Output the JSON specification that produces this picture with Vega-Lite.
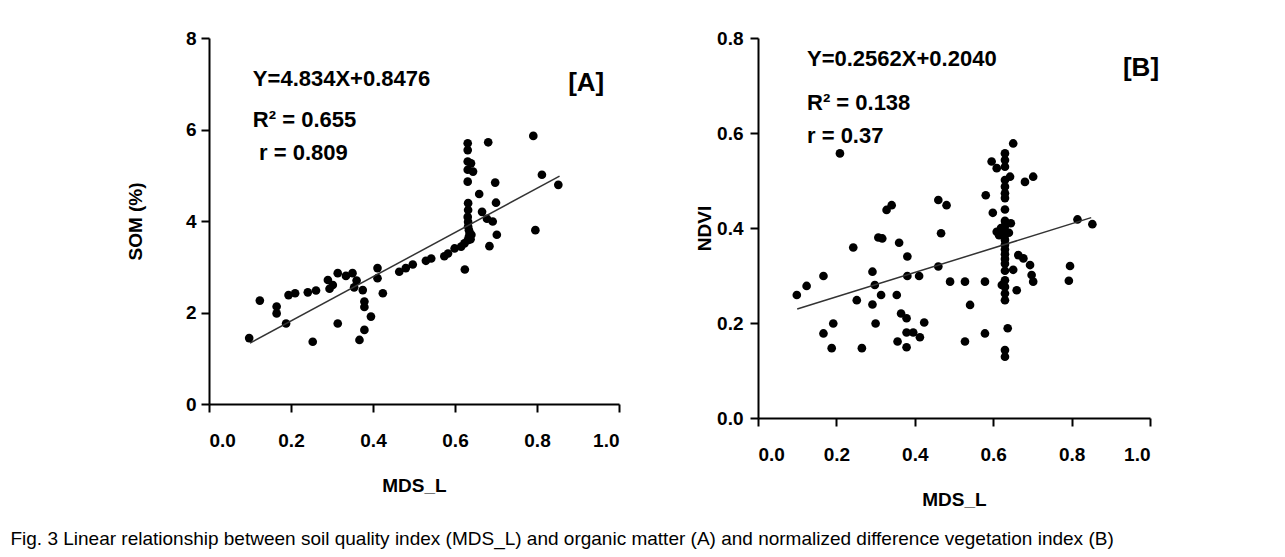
{
  "$schema": "https://vega.github.io/schema/vega-lite/v6.json",
  "background": "white",
  "padding": {"top": 29, "left": 10, "right": 5, "bottom": 8},
  "config": {
    "view": {"stroke": null},
    "font": "Liberation Sans, Arial",
    "axis": {
      "grid": false,
      "domainColor": "black",
      "domainWidth": 2,
      "tickColor": "black",
      "tickWidth": 2,
      "tickSize": 8,
      "labelColor": "black",
      "labelFont": "Liberation Sans, Arial",
      "labelFontWeight": "bold",
      "labelFontSize": 19,
      "titleColor": "black",
      "titleFont": "Liberation Sans, Arial",
      "titleFontWeight": "bold",
      "titleFontSize": 19
    }
  },
  "datasets": {
    "somA": [
      {"mds": 0.098, "som": 1.44}, {"mds": 0.124, "som": 2.26}, {"mds": 0.165, "som": 2.13}, {"mds": 0.165, "som": 1.98},
      {"mds": 0.188, "som": 1.76}, {"mds": 0.194, "som": 2.38}, {"mds": 0.21, "som": 2.42}, {"mds": 0.241, "som": 2.44},
      {"mds": 0.261, "som": 2.48}, {"mds": 0.253, "som": 1.36}, {"mds": 0.29, "som": 2.71}, {"mds": 0.294, "som": 2.52},
      {"mds": 0.302, "som": 2.6}, {"mds": 0.314, "som": 1.76}, {"mds": 0.314, "som": 2.86}, {"mds": 0.334, "som": 2.8},
      {"mds": 0.35, "som": 2.86}, {"mds": 0.354, "som": 2.55}, {"mds": 0.36, "som": 2.7}, {"mds": 0.375, "som": 2.49},
      {"mds": 0.379, "som": 2.24}, {"mds": 0.379, "som": 2.12}, {"mds": 0.367, "som": 1.4}, {"mds": 0.379, "som": 1.62},
      {"mds": 0.395, "som": 1.91}, {"mds": 0.424, "som": 2.42}, {"mds": 0.411, "som": 2.97}, {"mds": 0.411, "som": 2.75},
      {"mds": 0.464, "som": 2.89}, {"mds": 0.48, "som": 2.97}, {"mds": 0.497, "som": 3.05}, {"mds": 0.529, "som": 3.13},
      {"mds": 0.542, "som": 3.18}, {"mds": 0.574, "som": 3.23}, {"mds": 0.583, "som": 3.29}, {"mds": 0.599, "som": 3.4},
      {"mds": 0.615, "som": 3.44}, {"mds": 0.623, "som": 3.51}, {"mds": 0.631, "som": 3.58}, {"mds": 0.634, "som": 3.66},
      {"mds": 0.636, "som": 3.73}, {"mds": 0.634, "som": 3.8}, {"mds": 0.632, "som": 3.88}, {"mds": 0.632, "som": 3.98},
      {"mds": 0.631, "som": 4.09}, {"mds": 0.632, "som": 4.24}, {"mds": 0.632, "som": 4.39}, {"mds": 0.631, "som": 4.86},
      {"mds": 0.631, "som": 5.12}, {"mds": 0.644, "som": 5.08}, {"mds": 0.631, "som": 5.3}, {"mds": 0.639, "som": 5.26},
      {"mds": 0.631, "som": 5.55}, {"mds": 0.631, "som": 5.7}, {"mds": 0.624, "som": 2.94}, {"mds": 0.659, "som": 4.59},
      {"mds": 0.666, "som": 4.2}, {"mds": 0.678, "som": 4.05}, {"mds": 0.692, "som": 3.99}, {"mds": 0.681, "som": 5.72},
      {"mds": 0.698, "som": 4.84}, {"mds": 0.7, "som": 4.4}, {"mds": 0.702, "som": 3.7}, {"mds": 0.684, "som": 3.45},
      {"mds": 0.791, "som": 5.86}, {"mds": 0.812, "som": 5.01}, {"mds": 0.796, "som": 3.8}, {"mds": 0.852, "som": 4.79},
      {"mds": 0.638, "som": 3.6}, {"mds": 0.64, "som": 3.7}
    ],
    "ndviB": [
      {"mds": 0.099, "ndvi": 0.259}, {"mds": 0.124, "ndvi": 0.278}, {"mds": 0.167, "ndvi": 0.299}, {"mds": 0.209, "ndvi": 0.557},
      {"mds": 0.167, "ndvi": 0.178}, {"mds": 0.192, "ndvi": 0.199}, {"mds": 0.188, "ndvi": 0.147}, {"mds": 0.243, "ndvi": 0.359},
      {"mds": 0.252, "ndvi": 0.248}, {"mds": 0.265, "ndvi": 0.147}, {"mds": 0.292, "ndvi": 0.308}, {"mds": 0.298, "ndvi": 0.28},
      {"mds": 0.292, "ndvi": 0.239}, {"mds": 0.314, "ndvi": 0.259}, {"mds": 0.3, "ndvi": 0.199}, {"mds": 0.307, "ndvi": 0.38},
      {"mds": 0.317, "ndvi": 0.378}, {"mds": 0.328, "ndvi": 0.438}, {"mds": 0.341, "ndvi": 0.448}, {"mds": 0.36, "ndvi": 0.369},
      {"mds": 0.381, "ndvi": 0.34}, {"mds": 0.381, "ndvi": 0.299}, {"mds": 0.354, "ndvi": 0.259}, {"mds": 0.365, "ndvi": 0.22},
      {"mds": 0.379, "ndvi": 0.21}, {"mds": 0.379, "ndvi": 0.18}, {"mds": 0.396, "ndvi": 0.18}, {"mds": 0.413, "ndvi": 0.17},
      {"mds": 0.356, "ndvi": 0.161}, {"mds": 0.379, "ndvi": 0.149}, {"mds": 0.424, "ndvi": 0.201}, {"mds": 0.411, "ndvi": 0.299},
      {"mds": 0.46, "ndvi": 0.459}, {"mds": 0.481, "ndvi": 0.448}, {"mds": 0.467, "ndvi": 0.389}, {"mds": 0.46, "ndvi": 0.319},
      {"mds": 0.49, "ndvi": 0.287}, {"mds": 0.528, "ndvi": 0.287}, {"mds": 0.528, "ndvi": 0.161}, {"mds": 0.541, "ndvi": 0.238},
      {"mds": 0.579, "ndvi": 0.287}, {"mds": 0.579, "ndvi": 0.178}, {"mds": 0.581, "ndvi": 0.469}, {"mds": 0.599, "ndvi": 0.432},
      {"mds": 0.609, "ndvi": 0.392}, {"mds": 0.596, "ndvi": 0.54}, {"mds": 0.609, "ndvi": 0.526}, {"mds": 0.651, "ndvi": 0.578},
      {"mds": 0.643, "ndvi": 0.508}, {"mds": 0.681, "ndvi": 0.497}, {"mds": 0.702, "ndvi": 0.508},
      {"mds": 0.63, "ndvi": 0.557}, {"mds": 0.63, "ndvi": 0.543}, {"mds": 0.63, "ndvi": 0.529}, {"mds": 0.63, "ndvi": 0.501},
      {"mds": 0.63, "ndvi": 0.487}, {"mds": 0.63, "ndvi": 0.473}, {"mds": 0.63, "ndvi": 0.463}, {"mds": 0.63, "ndvi": 0.439},
      {"mds": 0.63, "ndvi": 0.415}, {"mds": 0.63, "ndvi": 0.405}, {"mds": 0.63, "ndvi": 0.395}, {"mds": 0.63, "ndvi": 0.385},
      {"mds": 0.63, "ndvi": 0.375}, {"mds": 0.63, "ndvi": 0.365}, {"mds": 0.63, "ndvi": 0.355}, {"mds": 0.63, "ndvi": 0.345},
      {"mds": 0.63, "ndvi": 0.335}, {"mds": 0.63, "ndvi": 0.325}, {"mds": 0.63, "ndvi": 0.31}, {"mds": 0.63, "ndvi": 0.29},
      {"mds": 0.63, "ndvi": 0.276}, {"mds": 0.63, "ndvi": 0.262}, {"mds": 0.63, "ndvi": 0.248}, {"mds": 0.637, "ndvi": 0.189},
      {"mds": 0.63, "ndvi": 0.143}, {"mds": 0.63, "ndvi": 0.129},
      {"mds": 0.645, "ndvi": 0.41}, {"mds": 0.64, "ndvi": 0.39}, {"mds": 0.62, "ndvi": 0.4}, {"mds": 0.615, "ndvi": 0.385},
      {"mds": 0.815, "ndvi": 0.418}, {"mds": 0.853, "ndvi": 0.408}, {"mds": 0.664, "ndvi": 0.343}, {"mds": 0.677, "ndvi": 0.336},
      {"mds": 0.694, "ndvi": 0.322}, {"mds": 0.698, "ndvi": 0.301}, {"mds": 0.702, "ndvi": 0.287}, {"mds": 0.651, "ndvi": 0.312},
      {"mds": 0.66, "ndvi": 0.269}, {"mds": 0.796, "ndvi": 0.32}, {"mds": 0.793, "ndvi": 0.289}, {"mds": 0.622, "ndvi": 0.28}
    ],
    "fitA": [{"mds": 0.1, "som": 1.331}, {"mds": 0.855, "som": 4.981}],
    "fitB": [{"mds": 0.1, "ndvi": 0.2296}, {"mds": 0.85, "ndvi": 0.4218}],
    "annA": [
      {"mds": 0.107, "som": 7.11, "label": "Y=4.834X+0.8476"},
      {"mds": 0.107, "som": 6.21, "label": "R² = 0.655"},
      {"mds": 0.122, "som": 5.48, "label": "r = 0.809"}
    ],
    "annB": [
      {"mds": 0.125, "ndvi": 0.755, "label": "Y=0.2562X+0.2040"},
      {"mds": 0.125, "ndvi": 0.664, "label": "R² = 0.138"},
      {"mds": 0.125, "ndvi": 0.593, "label": "r = 0.37"}
    ],
    "tagA": [{"mds": 0.876, "som": 7.02, "label": "[A]"}],
    "tagB": [{"mds": 0.931, "ndvi": 0.736, "label": "[B]"}]
  },
  "title": {
    "text": "Fig. 3  Linear relationship between soil quality index (MDS_L) and organic matter (A) and normalized difference vegetation index (B)",
    "orient": "bottom",
    "anchor": "start",
    "dx": -116,
    "offset": 21,
    "font": "Liberation Sans, Arial",
    "fontSize": 19,
    "fontWeight": "normal",
    "color": "black"
  },
  "hconcat": [
    {
      "width": 410,
      "height": 366,
      "layer": [
        {
          "data": {"name": "somA"},
          "mark": {"type": "circle", "size": 75, "color": "black", "opacity": 1},
          "encoding": {
            "x": {"field": "mds", "type": "quantitative", "scale": {"domain": [0, 1]},
                  "axis": {"title": "MDS_L", "values": [0, 0.2, 0.4, 0.6, 0.8, 1.0], "format": ".1f", "labelPadding": 19, "titlePadding": 26}},
            "y": {"field": "som", "type": "quantitative", "scale": {"domain": [0, 8]},
                  "axis": {"title": "SOM (%)", "values": [0, 2, 4, 6, 8], "labelPadding": 5, "titlePadding": 40}}
          }
        },
        {
          "data": {"name": "fitA"},
          "mark": {"type": "line", "color": "#333333", "strokeWidth": 1.5},
          "encoding": {"x": {"field": "mds", "type": "quantitative"}, "y": {"field": "som", "type": "quantitative"}}
        },
        {
          "data": {"name": "annA"},
          "mark": {"type": "text", "align": "left", "baseline": "middle", "fontSize": 22, "fontWeight": "bold", "font": "Liberation Sans, Arial", "color": "black"},
          "encoding": {"x": {"field": "mds", "type": "quantitative"}, "y": {"field": "som", "type": "quantitative"}, "text": {"field": "label"}}
        },
        {
          "data": {"name": "tagA"},
          "mark": {"type": "text", "align": "left", "baseline": "middle", "fontSize": 26, "fontWeight": "bold", "font": "Liberation Sans, Arial", "color": "black"},
          "encoding": {"x": {"field": "mds", "type": "quantitative"}, "y": {"field": "som", "type": "quantitative"}, "text": {"field": "label"}}
        }
      ]
    },
    {
      "width": 392,
      "height": 380,
      "layer": [
        {
          "data": {"name": "ndviB"},
          "mark": {"type": "circle", "size": 75, "color": "black", "opacity": 1},
          "encoding": {
            "x": {"field": "mds", "type": "quantitative", "scale": {"domain": [0, 1]},
                  "axis": {"title": "MDS_L", "values": [0, 0.2, 0.4, 0.6, 0.8, 1.0], "format": ".1f", "labelPadding": 19, "titlePadding": 26}},
            "y": {"field": "ndvi", "type": "quantitative", "scale": {"domain": [0, 0.8]},
                  "axis": {"title": "NDVI", "values": [0, 0.2, 0.4, 0.6, 0.8], "format": ".1f", "labelPadding": 7, "titlePadding": 2}}
          }
        },
        {
          "data": {"name": "fitB"},
          "mark": {"type": "line", "color": "#333333", "strokeWidth": 1.5},
          "encoding": {"x": {"field": "mds", "type": "quantitative"}, "y": {"field": "ndvi", "type": "quantitative"}}
        },
        {
          "data": {"name": "annB"},
          "mark": {"type": "text", "align": "left", "baseline": "middle", "fontSize": 22, "fontWeight": "bold", "font": "Liberation Sans, Arial", "color": "black"},
          "encoding": {"x": {"field": "mds", "type": "quantitative"}, "y": {"field": "ndvi", "type": "quantitative"}, "text": {"field": "label"}}
        },
        {
          "data": {"name": "tagB"},
          "mark": {"type": "text", "align": "left", "baseline": "middle", "fontSize": 26, "fontWeight": "bold", "font": "Liberation Sans, Arial", "color": "black"},
          "encoding": {"x": {"field": "mds", "type": "quantitative"}, "y": {"field": "ndvi", "type": "quantitative"}, "text": {"field": "label"}}
        }
      ]
    }
  ],
  "spacing": 75
}
